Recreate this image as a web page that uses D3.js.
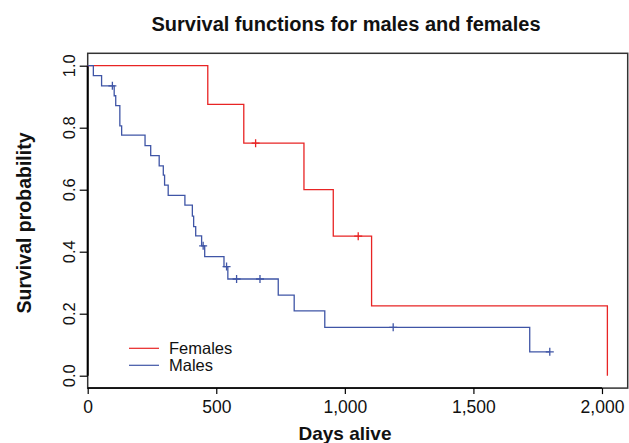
<!DOCTYPE html>
<html><head><meta charset="utf-8">
<script src="https://cdn.jsdelivr.net/npm/d3@7"></script>
<style>body{margin:0;background:#fff}svg{display:block}text{font-family:"Liberation Sans",Arial,Helvetica,sans-serif}</style>
</head><body><svg id="c" width="629" height="443"></svg>
<script>
// Data
const femaleTimes = [0, 467, 607, 841, 955, 1104, 2021];
const femaleSurv  = [1, 0.875, 0.75, 0.6, 0.45, 0.225, 0];
const femaleCensorTimes = [653, 1052];
const femaleCensorSurv  = [0.75, 0.45];

const maleTimes = [0, 22, 54, 103, 109, 125, 132, 223, 245, 278, 294, 299, 313, 378, 407, 412, 420, 443, 455, 530, 545, 741, 803, 922, 1719, 1797];
const maleSurv  = [1, 0.968, 0.935, 0.903, 0.871, 0.806, 0.776, 0.742, 0.710, 0.677, 0.647, 0.615, 0.582, 0.550, 0.515, 0.481, 0.451, 0.419, 0.384, 0.352, 0.312, 0.260, 0.209, 0.156, 0.077, 0.077];
const maleCensorTimes = [96, 449, 540, 579, 670, 1188, 1797];
const maleCensorSurv  = [0.935, 0.419, 0.352, 0.312, 0.312, 0.156, 0.077];

const xTicks = [0, 500, 1000, 1500, 2000];
const yTicks = [0, 0.2, 0.4, 0.6, 0.8, 1.0];
const legendLabels = ["Females", "Males"];
const colors = {Females: "#e82424", Males: "#3f55a6"};

const svg = d3.select("#c");
const x = d3.scaleLinear().domain([0, 2100]).range([87.7, 627.7]);
const y = d3.scaleLinear().domain([0, 1]).range([375.7, 65.7]);

// box
svg.append("rect").attr("x", x(0)).attr("y", y(1.04)).attr("width", x(2100) - x(0)).attr("height", y(-0.04) - y(1.04))
  .attr("fill", "none").attr("stroke", "#333").attr("stroke-width", 1.5);

// axes
const xAxis = d3.axisBottom(x).tickValues(xTicks).tickSize(6).tickPadding(6).tickFormat(d3.format(","));
const gx = svg.append("g").attr("transform", `translate(0,${y(-0.04)})`).call(xAxis);
gx.select(".domain").attr("d", `M${x(0)},0H${x(2000)}`).attr("stroke", "#000").attr("stroke-width", 1.5);
gx.selectAll(".tick line").attr("stroke", "#000").attr("stroke-width", 1.2);
gx.selectAll(".tick text").attr("font-size", 17.5).attr("fill", "#111");

const yAxis = d3.axisLeft(y).tickValues(yTicks).tickSize(8).tickFormat("");
const gy = svg.append("g").attr("transform", `translate(${x(0)},0)`).call(yAxis);
gy.select(".domain").attr("d", `M0,${y(0)}V${y(1)}`).attr("stroke", "#000").attr("stroke-width", 2);
gy.selectAll(".tick line").attr("stroke", "#000").attr("stroke-width", 1.2);
gy.selectAll(".tick text").remove();
const fmt = d3.format(".1f");
svg.append("g").selectAll("text").data(yTicks).join("text")
  .attr("transform", d => `translate(${x(0) - 13},${y(d)}) rotate(-90)`)
  .attr("text-anchor", "middle").attr("font-size", 16.5).attr("fill", "#111")
  .text(d => fmt(d));

// curves
const line = d3.line().x(d => x(d[0])).y(d => y(d[1])).curve(d3.curveStepAfter);
function drawCurve(times, surv, ct, cs, col) {
  svg.append("path").datum(times.map((t, i) => [t, surv[i]]))
    .attr("d", line).attr("fill", "none").attr("stroke", col).attr("stroke-width", 1.3);
  const g = svg.append("g").attr("stroke", col).attr("stroke-width", 1.3);
  ct.forEach((t, i) => {
    const cx = x(t), cy = y(cs[i]);
    g.append("path").attr("d", `M${cx - 4},${cy}H${cx + 4}M${cx},${cy - 4}V${cy + 4}`);
  });
}
drawCurve(femaleTimes, femaleSurv, femaleCensorTimes, femaleCensorSurv, colors.Females);
drawCurve(maleTimes, maleSurv, maleCensorTimes, maleCensorSurv, colors.Males);

// legend
legendLabels.forEach((lab, i) => {
  const ly = 348.3 + i * 17;
  svg.append("line").attr("x1", 129).attr("x2", 159).attr("y1", ly).attr("y2", ly)
    .attr("stroke", colors[lab]).attr("stroke-width", 1.2);
  svg.append("text").attr("x", 169).attr("y", ly + 5.5).attr("font-size", 16.5).attr("fill", "#111").text(lab);
});

// titles
svg.append("text").attr("x", 346).attr("y", 31).attr("text-anchor", "middle").attr("font-size", 20)
  .attr("font-weight", "bold").attr("fill", "#111").text("Survival functions for males and females");
svg.append("text").attr("x", 345).attr("y", 440).attr("text-anchor", "middle").attr("font-size", 19)
  .attr("font-weight", "bold").attr("fill", "#111").text("Days alive");
svg.append("text").attr("transform", "translate(31,223) rotate(-90)").attr("text-anchor", "middle").attr("font-size", 19.5)
  .attr("font-weight", "bold").attr("fill", "#111").text("Survival probability");
</script></body></html>
